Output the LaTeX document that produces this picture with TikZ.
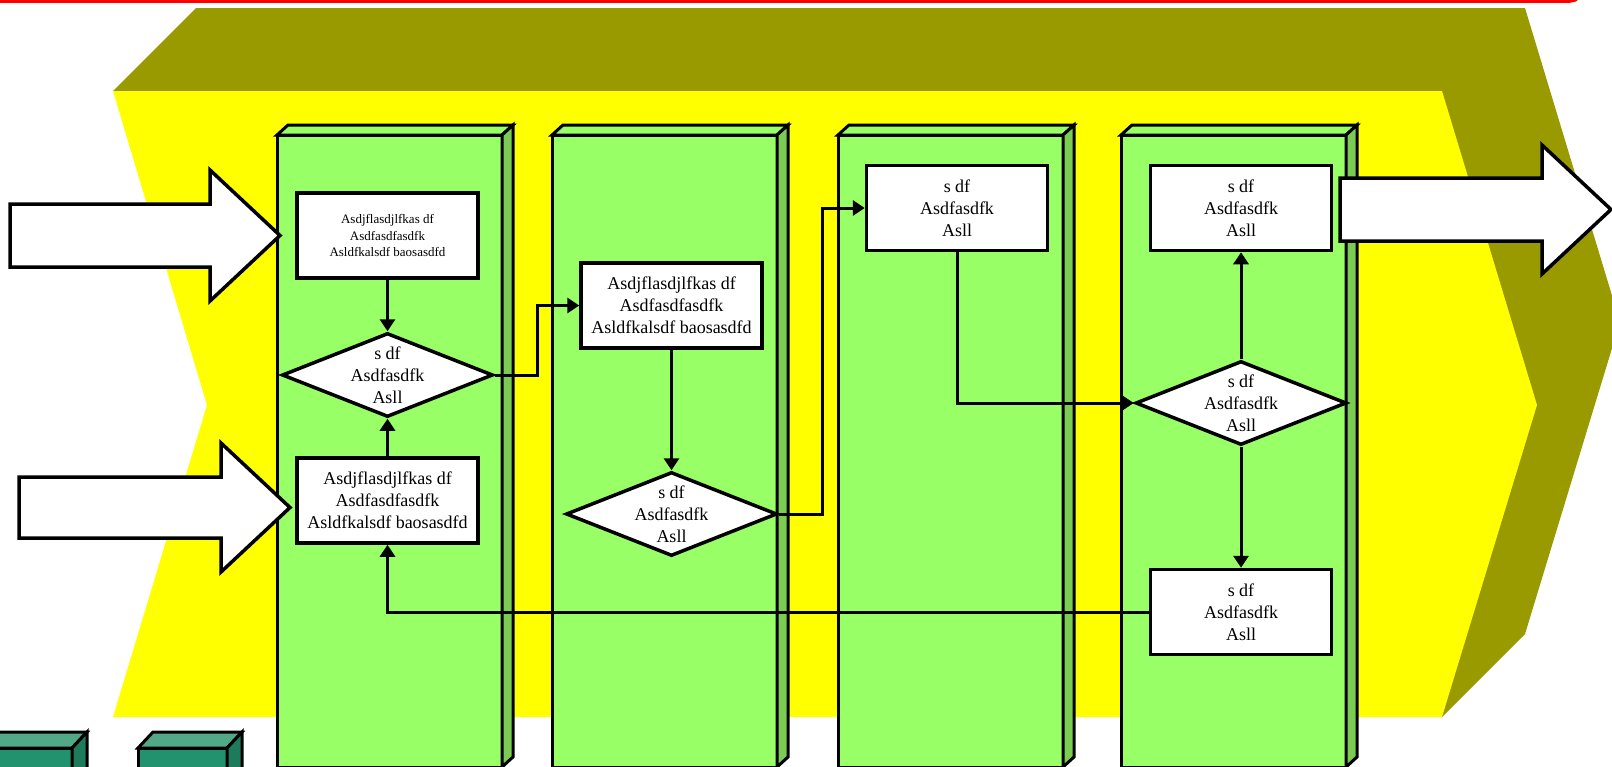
\documentclass[tikz,border=0pt]{standalone}
\usepackage{fontspec}
\setmainfont{Liberation Serif}
\usetikzlibrary{shapes.geometric,arrows.meta}

\definecolor{olivefill}{RGB}{153,153,0}
\definecolor{laneyellow}{RGB}{255,255,0}
\definecolor{colfront}{RGB}{153,255,102}
\definecolor{colside}{RGB}{122,204,82}
\definecolor{cubefront}{RGB}{34,146,110}
\definecolor{cubetop}{RGB}{82,169,135}
\definecolor{cubeside}{RGB}{29,122,91}

\tikzset{
  colface/.style={draw=black, line width=3pt},
  cubeface/.style={draw=black, line width=3pt},
  blockarrow/.style={draw=black, fill=white, line width=3.5pt},
  stepbox/.style={draw=black, fill=white, line width=3.5pt, rectangle,
    minimum width=181pt, minimum height=85pt, inner sep=0pt,
    align=center, font=\fontsize{18}{22}\selectfont},
  smallbox/.style={stepbox, font=\fontsize{13}{16.5}\selectfont},
  decision/.style={draw=black, fill=white, line width=3.5pt, diamond,
    minimum width=211pt, minimum height=84pt, inner sep=0pt},
  decisiontext/.style={align=center, inner sep=0pt,
    font=\fontsize{18}{22}\selectfont},
  flow/.style={draw=black, line width=3pt,
    -{Triangle[length=12pt,width=15pt]}}
}

\begin{document}
\begin{tikzpicture}[x=1pt,y=-1pt]
\useasboundingbox (0,0) rectangle (1612,766);
\clip (0,0) rectangle (1612,766);

% red frame edge along the top
\draw[red, line width=3.5pt, rounded corners=12pt] (-20,-60) rectangle (1582,1);

% extruded chevron: back (olive) and front (yellow)
\fill[olivefill] (113,91) -- (196,8) -- (1525,8) -- (1620,322) -- (1525,634) -- (1442,717) -- cycle;
\fill[laneyellow] (113,91) -- (1442,91) -- (1537,405) -- (1442,717) -- (113,717) -- (207,405) -- cycle;

% green 3D columns
\foreach \cx in {277,552,838,1121} {
  \filldraw[colface, fill=colfront] (\cx,135) rectangle (\cx+225,767);
  \filldraw[colface, fill=colfront] (\cx,135) -- (\cx+11,125) -- (\cx+236,125) -- (\cx+225,135) -- cycle;
  \filldraw[colface, fill=colside] (\cx+225,135) -- (\cx+236,125) -- (\cx+236,757) -- (\cx+225,767) -- cycle;
}

% small teal cubes at the bottom left
\foreach \fx in {-17,138} {
  \filldraw[cubeface, fill=cubefront] (\fx,748) rectangle (\fx+89,800);
  \filldraw[cubeface, fill=cubetop] (\fx,748) -- (\fx+15,732) -- (\fx+104,732) -- (\fx+89,748) -- cycle;
  \filldraw[cubeface, fill=cubeside] (\fx+89,748) -- (\fx+104,732) -- (\fx+104,784) -- (\fx+89,800) -- cycle;
}

% white block arrows (inputs and output)
\filldraw[blockarrow] (10,204) -- (210,204) -- (210,170) -- (280,235.5) -- (210,301) -- (210,267) -- (10,267) -- cycle;
\filldraw[blockarrow] (19,477) -- (221,477) -- (221,443) -- (290,507.5) -- (221,572) -- (221,538) -- (19,538) -- cycle;
\filldraw[blockarrow] (1340,178) -- (1542,178) -- (1542,145) -- (1611,209.5) -- (1542,274) -- (1542,241) -- (1340,241) -- cycle;

% process boxes
\node[smallbox] (b1) at (387.5,235.5) {Asdjflasdjlfkas df\\Asdfasdfasdfk\\Asldfkalsdf baosasdfd};
\node[decision] (d1) at (387.5,375) {};
\node[decisiontext] (d1t) at (d1.center) {s df\\Asdfasdfk\\Asll};
\node[stepbox] (b2) at (387.5,500.5) {Asdjflasdjlfkas df\\Asdfasdfasdfk\\Asldfkalsdf baosasdfd};

\node[stepbox] (b3) at (671.5,305.5) {Asdjflasdjlfkas df\\Asdfasdfasdfk\\Asldfkalsdf baosasdfd};
\node[decision] (d2) at (671.5,514) {};
\node[decisiontext] (d2t) at (d2.center) {s df\\Asdfasdfk\\Asll};

\node[stepbox] (b4) at (957,208) {s df\\Asdfasdfk\\Asll};

\node[stepbox] (b5) at (1241,208) {s df\\Asdfasdfk\\Asll};
\node[decision] (d3) at (1241,403) {};
\node[decisiontext] (d3t) at (d3.center) {s df\\Asdfasdfk\\Asll};
\node[stepbox] (b6) at (1241,612) {s df\\Asdfasdfk\\Asll};

% bend points
\coordinate (j1) at (537,375);
\coordinate (j2) at (822,514);

% connectors
\draw[flow] (b1.south) -- (d1.north);
\draw[flow] (b2.north) -- (d1.south);
\draw[flow] (d1.east) -- (j1) |- (b3.west);
\draw[flow] (b3.south) -- (d2.north);
\draw[flow] (d2.east) -- (j2) |- (b4.west);
\draw[flow] (b4.south) |- (d3.west);
\draw[flow] (d3.north) -- (b5.south);
\draw[flow] (d3.south) -- (b6.north);
\draw[flow] (b6.west) -| (b2.south);
\end{tikzpicture}
\end{document}
